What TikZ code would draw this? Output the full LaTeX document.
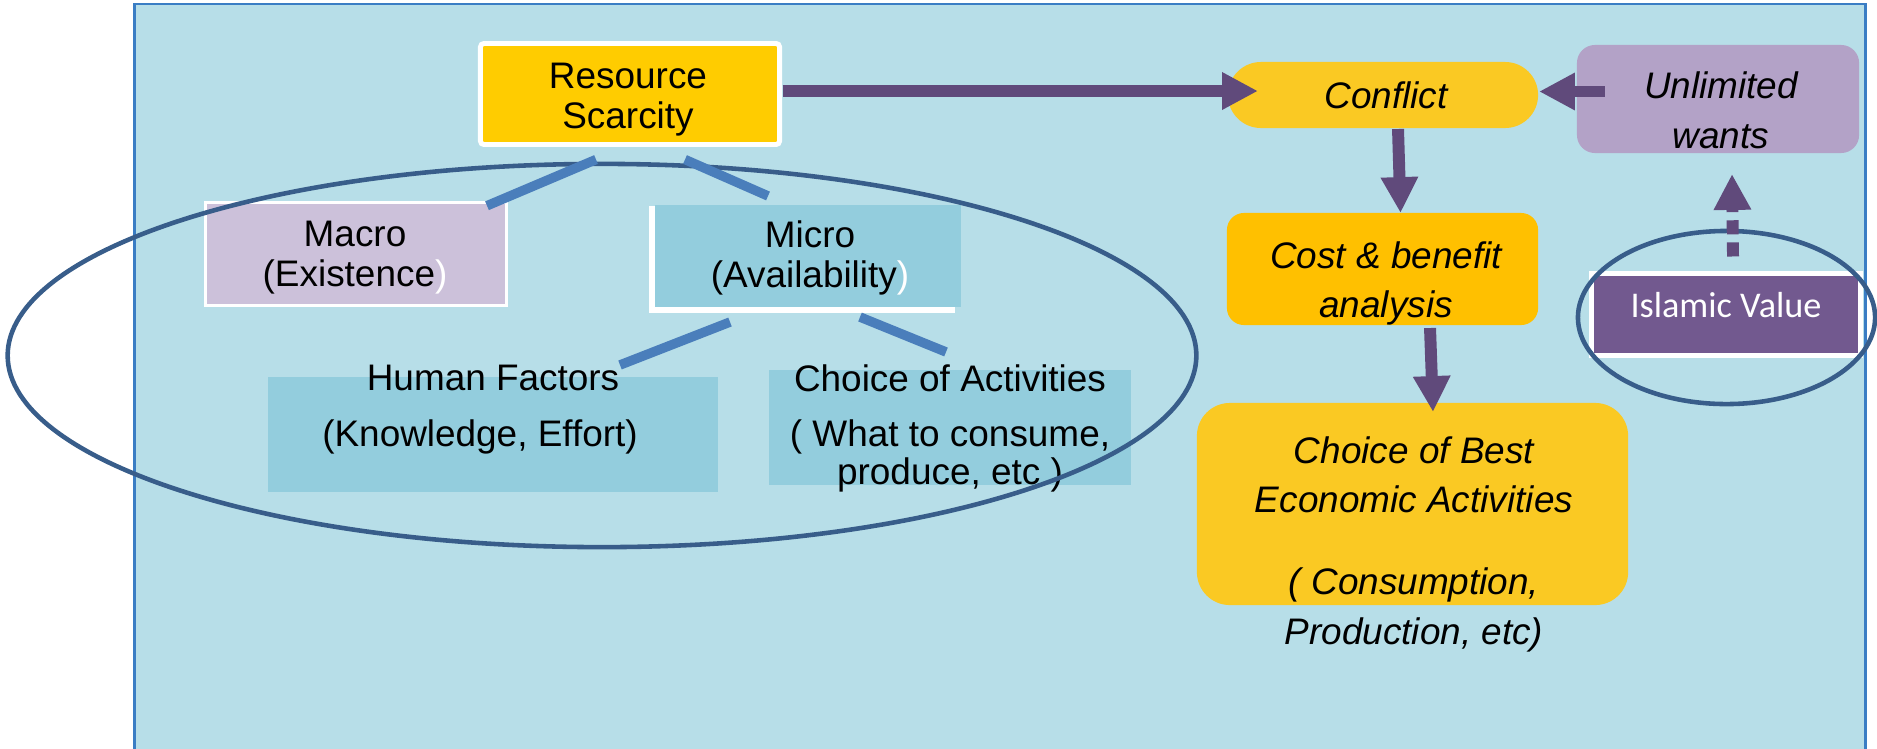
\documentclass[tikz,border=0pt]{standalone}
\usepackage{fontspec}
\setmainfont{Liberation Sans}
\newfontfamily\calibfont{Carlito}
\usetikzlibrary{arrows.meta,shapes.geometric,calc}
\definecolor{panel}{HTML}{B7DEE8}
\definecolor{panelborder}{HTML}{3A7DC4}
\definecolor{rsfill}{HTML}{FFCC00}
\definecolor{macrofill}{HTML}{CCC1DA}
\definecolor{microfill}{HTML}{93CDDD}
\definecolor{conffill}{HTML}{FAC923}
\definecolor{costfill}{HTML}{FFC000}
\definecolor{uwfill}{HTML}{B3A2C7}
\definecolor{ivfill}{HTML}{72598F}
\definecolor{arrowc}{HTML}{604A7B}
\definecolor{connc}{HTML}{4A7EBB}
\definecolor{ringc}{HTML}{385D8A}
\newcommand\mylines[1]{\begin{tabular}[t]{@{}c@{}}#1\end{tabular}}
\tikzset{
  boxn/.style={rectangle, inner sep=0pt, outer sep=0pt},
  txt/.style={inner sep=0pt, outer sep=0pt, anchor=base, font=\fontsize{10.5}{11.4}\selectfont},
  itxt/.style={inner sep=0pt, outer sep=0pt, anchor=base, font=\fontsize{10.5}{14.2}\selectfont\itshape},
  arr/.style={draw=arrowc, line width=3.4pt, -{Triangle[length=10.2pt,width=10pt]}},
  conn/.style={draw=connc, line width=2.7pt},
  ring/.style={ellipse, draw=ringc, line width=1.3pt, inner sep=0pt, outer sep=0pt},
}
\begin{document}
\begin{tikzpicture}[x=0.01cm,y=-0.01cm]
\useasboundingbox (0,0) rectangle (1877,748);
% panel
\node[boxn, fill=panel, draw=panelborder, line width=0.6pt, minimum width=17.30cm, minimum height=7.60cm] (panelbox) at (1000,384) {};
% boxes left
\node[boxn, fill=rsfill, draw=white, line width=1.4pt, rounded corners=1pt, minimum width=2.99cm, minimum height=1.01cm] (rs) at (630,94) {};
\node[boxn, fill=macrofill, draw=white, line width=1pt, minimum width=3.005cm, minimum height=1.025cm] (macro) at (356,254) {};
\node[boxn, fill=white, minimum width=3.06cm, minimum height=1.07cm] (microframe) at (802,259.5) {};
\node[boxn, fill=microfill, minimum width=3.06cm, minimum height=1.02cm] (micro) at (808,256) {};
\node[boxn, fill=microfill, minimum width=4.50cm, minimum height=1.15cm] (human) at (493,434.5) {};
\node[boxn, fill=microfill, minimum width=3.62cm, minimum height=1.15cm] (coa) at (950,427.5) {};
% boxes right
\node[boxn, fill=conffill, rounded corners=0.33cm, minimum width=3.10cm, minimum height=0.66cm] (conflict) at (1383,95) {};
\node[boxn, fill=uwfill, rounded corners=0.18cm, minimum width=2.82cm, minimum height=1.08cm] (uw) at (1718,99) {};
\node[boxn, fill=costfill, rounded corners=0.17cm, minimum width=3.11cm, minimum height=1.12cm] (cost) at (1382.5,269) {};
\node[boxn, fill=conffill, rounded corners=0.33cm, minimum width=4.31cm, minimum height=2.02cm] (best) at (1412.5,504) {};
\node[boxn, fill=ivfill, draw=white, line width=1.4pt, minimum width=2.69cm, minimum height=0.82cm] (iv) at (1726,314.5) {};
% texts
\node[txt] (rst) at (628,88) {\mylines{Resource\\Scarcity}};
\node[txt] (mact) at (355,246) {\mylines{Macro\\(Existence\textcolor{white}{)}}};
\node[txt] (mict) at (810,247) {\mylines{Micro\\(Availability\textcolor{white}{)}}};
\node[txt] (humt) at (493,390) {\mylines{Human Factors\\[4.8pt](Knowledge, Effort)\hspace*{7.4pt}}};
\node[txt] (coat) at (950,391) {\mylines{Choice of Activities\\[4.5pt]( What to consume,\\[-0.6pt]produce, etc )}};
\node[itxt] (conft) at (1386,108) {Conflict};
\node[itxt, font=\fontsize{10.5}{14.4}\selectfont\itshape] (uwt) at (1721,98) {\mylines{Unlimited\\wants}};
\node[itxt, font=\fontsize{10.5}{14.0}\selectfont\itshape] (costt) at (1386,268) {\mylines{Cost \& benefit\\analysis}};
\node[itxt] (bestt) at (1414,463) {\mylines{Choice of Best\\Economic Activities\\[9.1pt]( Consumption,\\Production, etc)}};
\node[inner sep=0pt, anchor=base, text=white, font=\calibfont\fontsize{10.3}{12}\selectfont] (ivt) at (1726,317) {Islamic Value};
% rings
\node[ring, minimum width=11.88cm, minimum height=3.83cm] (bigring) at (602,355.5) {};
\node[ring, minimum width=2.97cm, minimum height=1.73cm] (ivring) at (1726.5,317.5) {};
% tree connectors
\draw[conn] ($(rs.south)+(-34,15)$) -- ($(macro.north)+(131,3)$);
\draw[conn] ($(rs.south)+(55,15)$) -- ($(micro.north)+(-40,-9)$);
\draw[conn] ($(micro.south)+(-78,15)$) -- ($(human.north)+(127,-12)$);
\draw[conn] ($(micro.south)+(52,10)$) -- ($(coa.north)+(-4,-18)$);
% arrows
\draw[arr] ($(rs.east)+(3,-3)$) -- ($(conflict.west)+(30,-4)$);
\draw[arr] ($(uw.west)+(28,-7.5)$) -- ($(conflict.east)+(1,-3.5)$);
\draw[arr] ($(conflict.south)+(15,1)$) -- ($(cost.north)+(18,0)$);
\draw[arr] ($(cost.south)+(47.5,3)$) -- ($(best.north)+(20.5,9)$);
\draw[arr, dash pattern=on 4pt off 2.3pt] ($(iv.north)+(7,-17)$) -- ($(uw.south)+(14,21)$);
\end{tikzpicture}
\end{document}
